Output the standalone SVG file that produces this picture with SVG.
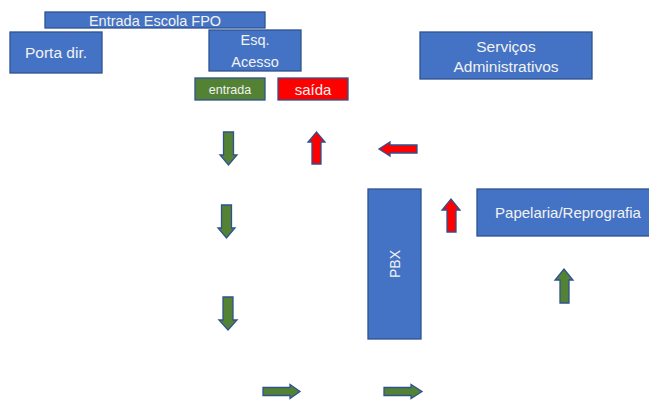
<svg xmlns="http://www.w3.org/2000/svg" width="649" height="401" viewBox="0 0 649 401">
<style>
.box{fill:#4472C4;stroke:#2F528F;stroke-width:1.3}
.ent{fill:#548235;stroke:#2F528F;stroke-width:1.3}
.sai{fill:#FF0000;stroke:#2F528F;stroke-width:1.3}
.ag{fill:#548235;stroke:#2F528F;stroke-width:1.3}
.ar{fill:#FF0000;stroke:#2F528F;stroke-width:1.3}
text{font-family:"Liberation Sans",Arial,sans-serif;fill:#F2F2F2;text-anchor:middle}
</style>
<rect width="649" height="401" fill="#fff"/>
<g id="entrada-escola"><rect class="box" x="45" y="12" width="220" height="16"/><text x="155" y="25.5" font-size="14.5">Entrada Escola FPO</text></g>
<g id="porta-dir"><rect class="box" x="10" y="32" width="92" height="41"/><text x="56" y="58" font-size="15.5">Porta dir.</text></g>
<g id="esq-acesso"><rect class="box" x="209" y="30" width="92" height="41"/><text x="255" y="45" font-size="14.5">Esq.</text><text x="255" y="67" font-size="14.5">Acesso</text></g>
<g id="entrada"><rect class="ent" x="195" y="78" width="70" height="22"/><text x="230" y="94" font-size="12.5">entrada</text></g>
<g id="saida"><rect class="sai" x="278" y="78" width="70" height="22"/><text x="313" y="95" font-size="15">saída</text></g>
<g id="servicos"><rect class="box" x="420" y="32" width="172" height="47"/><text x="506" y="52" font-size="15.5">Serviços</text><text x="506" y="72" font-size="15.5">Administrativos</text></g>
<g id="pbx"><rect class="box" x="368" y="189" width="53" height="150"/><text transform="translate(400,264) rotate(-90)" font-size="14">PBX</text></g>
<g id="papelaria"><rect class="box" x="477" y="189" width="175" height="47"/><text x="568" y="218" font-size="15">Papelaria/Reprografia</text></g>
<g id="connectors">
<polygon class="ag" points="223.5,132 233.5,132 233.5,155 237,155 228.5,165 220,155 223.5,155"/>
<polygon class="ar" points="312,164 321,164 321,142 325,142 316.5,132 308,142 312,142"/>
<polygon class="ar" points="417,145 390,145 390,142 379,149 390,156 390,153 417,153"/>
<polygon class="ag" points="221.5,205 231.5,205 231.5,228 235,228 226.5,238 218,228 221.5,228"/>
<polygon class="ag" points="223,297 233,297 233,320 237,320 228,330 219,320 223,320"/>
<polygon class="ar" points="447,232 456,232 456,210 460,210 451,199 442,210 447,210"/>
<polygon class="ag" points="560,303 569,303 569,280 573,280 564,269 555,280 560,280"/>
<polygon class="ag" points="263,387.5 290,387.5 290,384.5 300,391.5 290,398.5 290,395.5 263,395.5"/>
<polygon class="ag" points="384,387.5 411,387.5 411,384.5 422,391.5 411,398.5 411,395.5 384,395.5"/>
</g>
</svg>
